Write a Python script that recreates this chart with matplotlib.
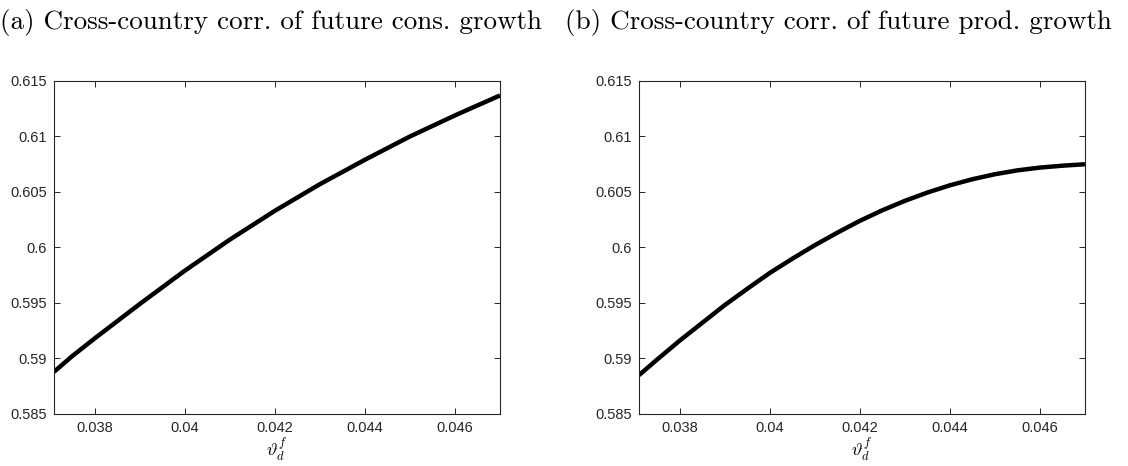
import matplotlib
matplotlib.use("Agg")
import matplotlib.pyplot as plt
from matplotlib.ticker import FixedLocator, FixedFormatter

plt.rcParams['mathtext.fontset'] = 'cm'

x_vals = [0.0371, 0.0375, 0.038, 0.0385, 0.039, 0.0395, 0.040, 0.0405, 0.041, 0.0415,
          0.042, 0.0425, 0.043, 0.0435, 0.044, 0.0445, 0.045, 0.0455, 0.046, 0.0465, 0.047]
cons_corr = [0.5888, 0.5902, 0.5918, 0.59335, 0.5949, 0.5964, 0.5979, 0.5993, 0.6007, 0.6020,
             0.6033, 0.6045, 0.6057, 0.6068, 0.6079, 0.60895, 0.6100, 0.61095, 0.6119, 0.6128, 0.6137]
prod_corr = [0.5885, 0.5899, 0.5916, 0.5932, 0.5948, 0.59627, 0.5977, 0.59898, 0.6002, 0.60133,
             0.6024, 0.60335, 0.6042, 0.60495, 0.6056, 0.60615, 0.6066, 0.60695, 0.6072, 0.60737, 0.6075]

titles = ["(a) Cross-country corr. of future cons. growth",
          "(b) Cross-country corr. of future prod. growth"]
xticks = [0.038, 0.040, 0.042, 0.044, 0.046]
xticklabels = ["0.038", "0.04", "0.042", "0.044", "0.046"]
yticks = [0.585, 0.59, 0.595, 0.60, 0.605, 0.61, 0.615]
yticklabels = ["0.585", "0.59", "0.595", "0.6", "0.605", "0.61", "0.615"]
xlabel = r"$\vartheta_d^f$"

W, H = 1128, 466
fig = plt.figure(figsize=(W / 100, H / 100), dpi=100)

ax_rects = [(54, 81, 500, 414), (639, 81, 1085, 414)]
title_x = [0, 565]
series = [cons_corr, prod_corr]

for i, (l, t, r, b) in enumerate(ax_rects):
    ax = fig.add_axes([l / W, 1 - b / H, (r - l) / W, (b - t) / H])
    ax.plot(x_vals, series[i], color='black', lw=3.2, solid_capstyle='butt',
            solid_joinstyle='round')
    ax.set_xlim(0.0371, 0.047)
    ax.set_ylim(0.585, 0.615)
    ax.xaxis.set_major_locator(FixedLocator(xticks))
    ax.xaxis.set_major_formatter(FixedFormatter(xticklabels))
    ax.yaxis.set_major_locator(FixedLocator(yticks))
    ax.yaxis.set_major_formatter(FixedFormatter(yticklabels))
    ax.tick_params(direction='in', length=4, width=0.7, colors='#262626',
                   top=True, right=True, labelsize=10.5, pad=5)
    for lab in ax.get_xticklabels() + ax.get_yticklabels():
        lab.set_fontfamily('Liberation Sans')
    for sp in ax.spines.values():
        sp.set_color('#262626')
        sp.set_linewidth(0.8)
    ax.set_xlabel(xlabel, fontsize=13, labelpad=0)
    fig.text(title_x[i] / W, 1 - 22 / H, titles[i], fontsize=19.5,
             family='cmr10', va='center', ha='left')

fig.savefig("out.png", dpi=100)
